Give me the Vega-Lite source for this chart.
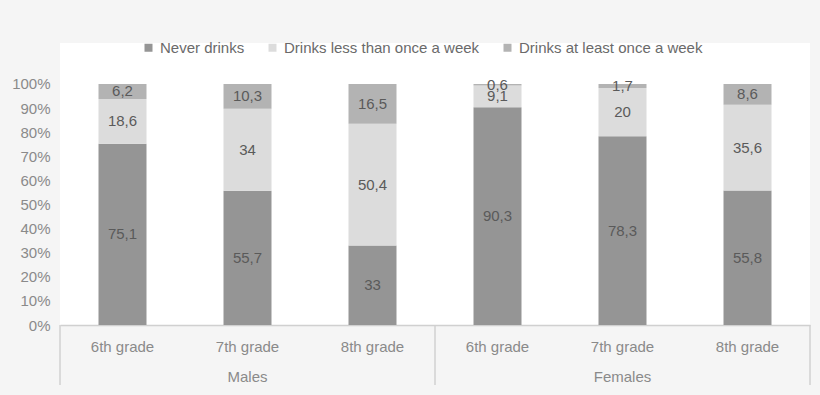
{
  "$schema": "https://vega.github.io/schema/vega-lite/v6.json",
  "width": 750,
  "height": 282,
  "autosize": {"type": "none"},
  "padding": {"left": 60, "top": 43, "right": 10, "bottom": 70},
  "background": "#f5f5f5",
  "config": {
    "font": "Liberation Sans",
    "view": {"fill": "white", "stroke": null},
    "locale": {"number": {"decimal": ",", "thousands": ".", "grouping": [3], "currency": ["", " €"]}},
    "axisX": {"title": null, "labelAngle": 0, "labelFontSize": 15, "labelColor": "#8a8a8a", "labelPadding": 14, "labelLimit": 0, "ticks": false, "domainColor": "#d0d0d0", "domainWidth": 1.5, "grid": false},
    "axisY": {"title": null, "labelFontSize": 15, "labelColor": "#8a8a8a", "labelPadding": 10, "labelOverlap": false, "ticks": false, "domain": false, "grid": false}
  },
  "data": {
    "values": [
      {"group": "Males", "grade": "6th grade", "key": "Males|6th grade", "category": "Never drinks", "order": 1, "value": 75.1},
      {"group": "Males", "grade": "6th grade", "key": "Males|6th grade", "category": "Drinks less than once a week", "order": 2, "value": 18.6},
      {"group": "Males", "grade": "6th grade", "key": "Males|6th grade", "category": "Drinks at least once a week", "order": 3, "value": 6.2},
      {"group": "Males", "grade": "7th grade", "key": "Males|7th grade", "category": "Never drinks", "order": 1, "value": 55.7},
      {"group": "Males", "grade": "7th grade", "key": "Males|7th grade", "category": "Drinks less than once a week", "order": 2, "value": 34},
      {"group": "Males", "grade": "7th grade", "key": "Males|7th grade", "category": "Drinks at least once a week", "order": 3, "value": 10.3},
      {"group": "Males", "grade": "8th grade", "key": "Males|8th grade", "category": "Never drinks", "order": 1, "value": 33},
      {"group": "Males", "grade": "8th grade", "key": "Males|8th grade", "category": "Drinks less than once a week", "order": 2, "value": 50.4},
      {"group": "Males", "grade": "8th grade", "key": "Males|8th grade", "category": "Drinks at least once a week", "order": 3, "value": 16.5},
      {"group": "Females", "grade": "6th grade", "key": "Females|6th grade", "category": "Never drinks", "order": 1, "value": 90.3},
      {"group": "Females", "grade": "6th grade", "key": "Females|6th grade", "category": "Drinks less than once a week", "order": 2, "value": 9.1},
      {"group": "Females", "grade": "6th grade", "key": "Females|6th grade", "category": "Drinks at least once a week", "order": 3, "value": 0.6},
      {"group": "Females", "grade": "7th grade", "key": "Females|7th grade", "category": "Never drinks", "order": 1, "value": 78.3},
      {"group": "Females", "grade": "7th grade", "key": "Females|7th grade", "category": "Drinks less than once a week", "order": 2, "value": 20},
      {"group": "Females", "grade": "7th grade", "key": "Females|7th grade", "category": "Drinks at least once a week", "order": 3, "value": 1.7},
      {"group": "Females", "grade": "8th grade", "key": "Females|8th grade", "category": "Never drinks", "order": 1, "value": 55.8},
      {"group": "Females", "grade": "8th grade", "key": "Females|8th grade", "category": "Drinks less than once a week", "order": 2, "value": 35.6},
      {"group": "Females", "grade": "8th grade", "key": "Females|8th grade", "category": "Drinks at least once a week", "order": 3, "value": 8.6}
    ]
  },
  "transform": [
    {"stack": "value", "groupby": ["key"], "sort": [{"field": "order"}], "offset": "normalize", "as": ["y0", "y1"]},
    {"calculate": "(datum.y0 + datum.y1) / 2", "as": "ymid"}
  ],
  "layer": [
    {
      "mark": {"type": "bar", "width": {"band": 0.384}},
      "encoding": {
        "x": {
          "field": "key", "type": "nominal",
          "sort": ["Males|6th grade", "Males|7th grade", "Males|8th grade", "Females|6th grade", "Females|7th grade", "Females|8th grade"],
          "scale": {"paddingInner": 0, "paddingOuter": 0},
          "axis": {"labelExpr": "split(datum.value, '|')[1]"}
        },
        "y": {
          "field": "y0", "type": "quantitative",
          "scale": {"domain": [0, 1.17], "nice": false, "zero": true},
          "axis": {"values": [0, 0.1, 0.2, 0.3, 0.4, 0.5, 0.6, 0.7, 0.8, 0.9, 1], "format": ".0%"}
        },
        "y2": {"field": "y1"},
        "color": {
          "field": "category", "type": "nominal",
          "scale": {"domain": ["Never drinks", "Drinks less than once a week", "Drinks at least once a week"], "range": ["#959595", "#dcdcdc", "#b3b3b3"]},
          "legend": {"title": null, "orient": "none", "direction": "horizontal", "legendX": 81, "legendY": -3, "symbolType": "square", "symbolSize": 64, "symbolStrokeWidth": 0, "labelFontSize": 15, "labelColor": "#6a6a6a", "labelOffset": 4, "labelLimit": 0, "columnPadding": 20, "padding": 0}
        }
      }
    },
    {
      "mark": {"type": "text", "fontSize": 15, "color": "#5a5a5a", "baseline": "middle"},
      "encoding": {
        "x": {"field": "key", "type": "nominal", "sort": ["Males|6th grade", "Males|7th grade", "Males|8th grade", "Females|6th grade", "Females|7th grade", "Females|8th grade"], "axis": {"labelExpr": "split(datum.value, '|')[1]"}},
        "y": {"field": "ymid", "type": "quantitative", "axis": {"values": [0, 0.1, 0.2, 0.3, 0.4, 0.5, 0.6, 0.7, 0.8, 0.9, 1], "format": ".0%"}},
        "text": {"field": "value", "type": "quantitative", "format": ".1~f"}
      }
    },
    {
      "transform": [{"filter": "datum.grade == '6th grade' && datum.order == 1"}],
      "mark": {"type": "rule", "color": "#d0d0d0", "strokeWidth": 1.5, "y2Offset": 60},
      "encoding": {
        "x": {"field": "key", "type": "nominal", "bandPosition": 0, "sort": ["Males|6th grade", "Males|7th grade", "Males|8th grade", "Females|6th grade", "Females|7th grade", "Females|8th grade"], "axis": {"labelExpr": "split(datum.value, '|')[1]"}},
        "y": {"datum": 0, "type": "quantitative", "axis": {"values": [0, 0.1, 0.2, 0.3, 0.4, 0.5, 0.6, 0.7, 0.8, 0.9, 1], "format": ".0%"}},
        "y2": {"datum": 0}
      }
    },
    {
      "transform": [{"filter": "datum.key == 'Females|8th grade' && datum.order == 1"}],
      "mark": {"type": "rule", "color": "#d0d0d0", "strokeWidth": 1.5, "y2Offset": 60},
      "encoding": {
        "x": {"field": "key", "type": "nominal", "bandPosition": 1, "sort": ["Males|6th grade", "Males|7th grade", "Males|8th grade", "Females|6th grade", "Females|7th grade", "Females|8th grade"], "axis": {"labelExpr": "split(datum.value, '|')[1]"}},
        "y": {"datum": 0, "type": "quantitative", "axis": {"values": [0, 0.1, 0.2, 0.3, 0.4, 0.5, 0.6, 0.7, 0.8, 0.9, 1], "format": ".0%"}},
        "y2": {"datum": 0}
      }
    },
    {
      "transform": [{"filter": "datum.grade == '7th grade' && datum.order == 1"}],
      "mark": {"type": "text", "fontSize": 15, "color": "#8a8a8a", "baseline": "middle", "dy": 52},
      "encoding": {
        "x": {"field": "key", "type": "nominal", "sort": ["Males|6th grade", "Males|7th grade", "Males|8th grade", "Females|6th grade", "Females|7th grade", "Females|8th grade"], "axis": {"labelExpr": "split(datum.value, '|')[1]"}},
        "y": {"datum": 0, "type": "quantitative", "axis": {"values": [0, 0.1, 0.2, 0.3, 0.4, 0.5, 0.6, 0.7, 0.8, 0.9, 1], "format": ".0%"}},
        "text": {"field": "group", "type": "nominal"}
      }
    }
  ]
}
